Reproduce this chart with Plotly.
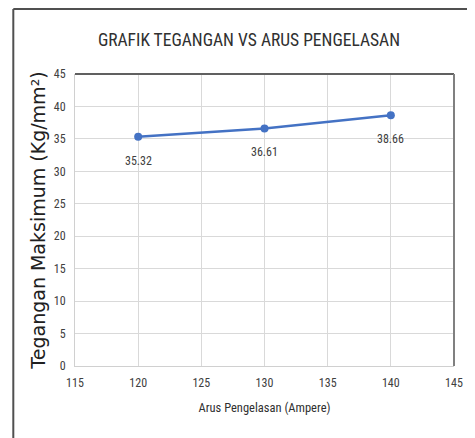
import plotly.graph_objects as go

arus = [120, 130, 140]
tegangan = [35.32, 36.61, 38.66]
labels = ["35.32", "36.61", "38.66"]
x_ticks = [115, 120, 125, 130, 135, 140, 145]
y_ticks = [0, 5, 10, 15, 20, 25, 30, 35, 40, 45]

narrow = "Liberation Sans Narrow, Arial Narrow, Roboto Condensed, Roboto, sans-serif"

fig = go.Figure()
fig.add_trace(go.Scatter(
    x=arus, y=tegangan, mode="lines+markers",
    line=dict(color="#4472C4", width=2.5),
    marker=dict(color="#4472C4", size=8),
    hoverinfo="skip", showlegend=False,
))
for xv, yv, t in zip(arus, tegangan, labels):
    fig.add_annotation(x=xv, y=yv, text=t, showarrow=False, yshift=-24,
                       font=dict(family=narrow, size=12, color="#404040"))

# page body has an 8px margin; the figure is placed at (8, 8)
W, H = 467, 430
L, R, T, B = 67, 13, 66, 72
pw, ph = W - L - R, H - T - B

fig.update_layout(
    width=W, height=H,
    margin=dict(l=L, r=R, t=T, b=B),
    paper_bgcolor="white", plot_bgcolor="white",
    title=dict(text="GRAFIK TEGANGAN VS ARUS PENGELASAN", x=0.516, xanchor="center",
               y=1 - 32 / H, yanchor="middle",
               font=dict(family=narrow, size=17.5, color="#303030")),
    xaxis=dict(range=[115, 145], tickvals=x_ticks, showgrid=True, gridcolor="#d9d9d9",
               gridwidth=1, zeroline=False, showline=True, linecolor="#d0d0d0", linewidth=1,
               ticks="", ticklabelstandoff=6,
               tickfont=dict(family=narrow, size=12, color="#404040"),
               title=dict(text="Arus Pengelasan (Ampere)", standoff=13,
                          font=dict(family=narrow, size=12.5, color="#303030"))),
    yaxis=dict(range=[0, 45], tickvals=y_ticks, showgrid=True, gridcolor="#d9d9d9",
               gridwidth=1, zeroline=False, showline=True, linecolor="#d0d0d0", linewidth=1,
               ticks="", ticklabelstandoff=6,
               tickfont=dict(family=narrow, size=12, color="#404040"),
               title=dict(text="Tegangan Maksimum (Kg/mm²)", standoff=3,
                          font=dict(family="DejaVu Sans, Verdana, sans-serif", size=19, color="#202020"))),
)

# plot-area top and right borders (darker)
fig.add_shape(type="line", xref="paper", yref="paper", x0=0, x1=1, y0=1, y1=1,
              line=dict(color="#606060", width=2))
fig.add_shape(type="line", xref="paper", yref="paper", x0=1, x1=1, y0=0, y1=1,
              line=dict(color="#808080", width=2))
# outer chart frame (left and top edges)
ox = (4 - L) / pw
oy = 1 + (T - 1) / ph
fig.add_shape(type="line", xref="paper", yref="paper", x0=ox, x1=1 + R / pw + 0.05, y0=oy, y1=oy,
              line=dict(color="#505050", width=2))
fig.add_shape(type="line", xref="paper", yref="paper", x0=ox, x1=ox, y0=-B / ph - 0.05, y1=oy,
              line=dict(color="#505050", width=2))

fig.write_html("out.html")
